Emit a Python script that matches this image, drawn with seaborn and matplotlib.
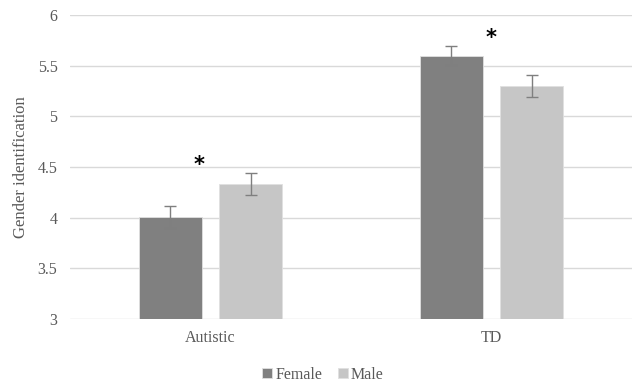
import pandas as pd
import seaborn as sns
import matplotlib.pyplot as plt

groups = ["Autistic", "TD"]
genders = ["Female", "Male"]
female_means = [4.01, 5.60]
male_means = [4.33, 5.30]
female_err = [0.11, 0.09]
male_err = [0.11, 0.11]
star_groups = ["Autistic", "TD"]
star_heights = [4.52, 5.77]

sns.set_theme(style="white")
plt.rcParams['font.family'] = ['Liberation Serif', 'DejaVu Serif']

TEXT = "#595959"

df = pd.DataFrame({
      "group": groups * 2,
      "gender": ["Female"] * len(groups) + ["Male"] * len(groups),
      "mean": female_means + male_means,
      "err": female_err + male_err,
})

fig = plt.figure(figsize=(6.33, 3.82), dpi=100)
ax = fig.add_axes([70/633, 1 - 319/382, 562/633, 304/382])

sns.barplot(data=df, x="group", y="mean", hue="gender", hue_order=genders,
            order=groups, palette=["#808080", "#C6C6C6"], width=0.57, gap=0.21,
            errorbar=None, edgecolor="#E0E0E0", linewidth=0.6, ax=ax, zorder=3)

# error bars on top of each bar
for patch, (_, row) in zip(ax.patches, df.iterrows()):
      xc = patch.get_x() + patch.get_width() / 2
      ax.errorbar(xc, patch.get_height() + patch.get_y(), yerr=row["err"], fmt="none",
                  ecolor="#7F7F7F", elinewidth=1, capsize=4, capthick=1, zorder=4)

ax.set_xlim(-0.5, 1.5)
ax.set_ylim(3, 6)
ax.set_yticks([3, 3.5, 4, 4.5, 5, 5.5, 6])
ax.set_yticklabels(["3", "3.5", "4", "4.5", "5", "5.5", "6"])
ax.yaxis.grid(True, color="#D9D9D9", linewidth=1)
ax.set_axisbelow(True)
for s in ax.spines.values():
      s.set_visible(False)
ax.tick_params(axis="both", length=0, labelsize=11.5, colors=TEXT)
ax.tick_params(axis="y", pad=9)
ax.tick_params(axis="x", pad=8)
ax.set_xlabel("")
ax.set_ylabel("Gender identification", fontsize=12, color=TEXT, labelpad=6)

# significance stars
offsets = {"Autistic": -0.04, "TD": 0.0}
for g, h in zip(star_groups, star_heights):
      ax.text(groups.index(g) + offsets[g], h, "*", ha="center", va="center",
              fontsize=15, fontweight="bold", color="black", family=['DejaVu Sans'])

ax.legend(loc="upper center", bbox_to_anchor=(0.45, -0.11), ncol=2, frameon=False,
          fontsize=11.5, labelcolor=TEXT, handlelength=0.6, handleheight=0.6,
          handletextpad=0.2, columnspacing=1.0)

fig.savefig("out.png", dpi=100)
